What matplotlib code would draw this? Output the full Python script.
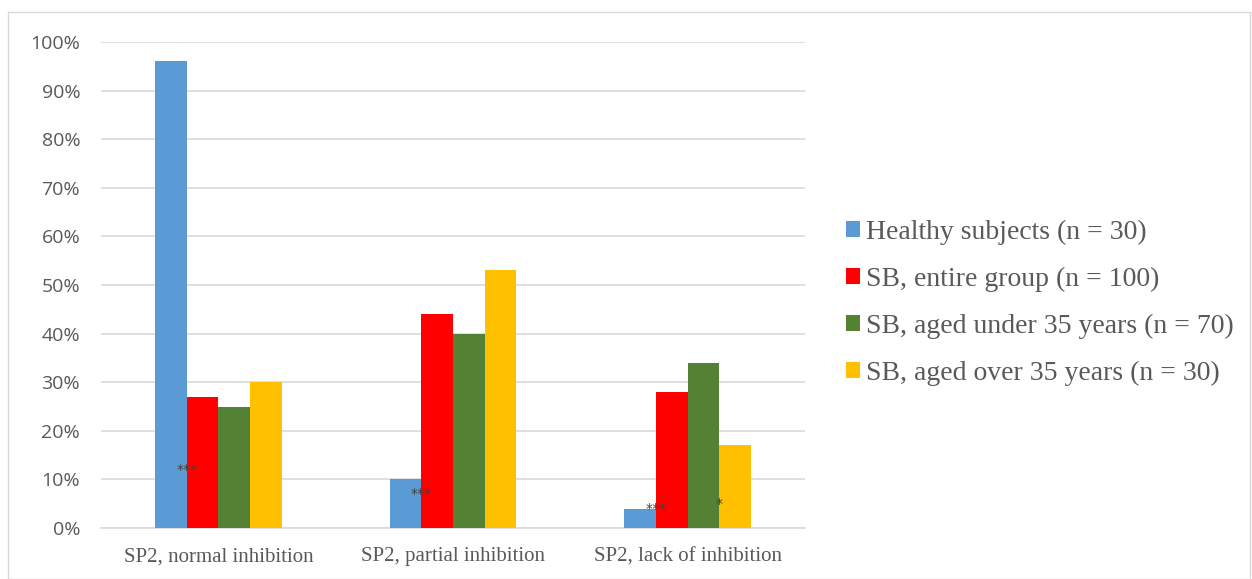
import matplotlib
matplotlib.use("Agg")
import matplotlib.pyplot as plt
import matplotlib.ticker as mticker
import numpy as np
from matplotlib.patches import Rectangle

categories = ["SP2, normal inhibition", "SP2, partial inhibition", "SP2, lack of inhibition"]
series_names = [
    "Healthy subjects (n = 30)",
    "SB, entire group (n = 100)",
    "SB, aged under 35 years (n = 70)",
    "SB, aged over 35 years (n = 30)",
]
healthy = [96, 10, 4]
sb_all = [27, 44, 28]
sb_under35 = [25, 40, 34]
sb_over35 = [30, 53, 17]

# significance marks: (category index, offset from group centre in bar widths, y value, text)
stars = [(0, -1.0, 12, "***"), (1, -1.0, 7, "***"), (2, -1.0, 4, "***"), (2, 1.0, 5, "*")]

COLORS = ["#5B9BD5", "#FF0000", "#548235", "#FFC000"]
TEXT = "#595959"
GRID = "#D9D9D9"

fig = plt.figure(figsize=(12.52, 5.79), dpi=100)
ax = fig.add_axes([101 / 1252, 1 - 528 / 579, 704 / 1252, 486 / 579])

# light frame round the whole chart
fig.patches.append(Rectangle((8 / 1252, 0), 1 - 8 / 1252 - 2 / 1252, 1 - 12 / 579,
                             transform=fig.transFigure, fill=False,
                             edgecolor="#D9D9D9", linewidth=1.0))

x = np.arange(len(categories))
w = 0.135
data = [healthy, sb_all, sb_under35, sb_over35]
handles = []
for i, vals in enumerate(data):
    b = ax.bar(x + (i - 1.5) * w, vals, width=w, color=COLORS[i], label=series_names[i], zorder=3)
    handles.append(b)

for ci, off, yv, txt in stars:
    ax.text(x[ci] + off * w, yv, txt, ha="center", va="center",
            fontsize=10, color="#404040", zorder=4, family="DejaVu Sans")

ax.set_xlim(-0.5, 2.5)
ax.set_ylim(0, 100)
ax.set_yticks(np.arange(0, 101, 10))
ax.yaxis.set_major_formatter(mticker.FuncFormatter(lambda v, p: f"{v:.0f}%"))
ax.set_xticks(x)
ax.set_xticklabels(categories, family="Liberation Serif", fontsize=15, color=TEXT)
for lab in ax.get_yticklabels():
    lab.set_family("Open Sans")
    lab.set_fontsize(14)
    lab.set_color(TEXT)
ax.tick_params(axis="both", length=0)
ax.tick_params(axis="y", pad=15)
ax.tick_params(axis="x", pad=14)
for s in ["top", "right", "left"]:
    ax.spines[s].set_visible(False)
ax.spines["bottom"].set_color(GRID)
ax.spines["bottom"].set_linewidth(1.2)
ax.grid(axis="y", color=GRID, linewidth=1.2, zorder=0)
ax.set_axisbelow(True)

leg = fig.legend(handles=handles, labels=series_names, loc="center left",
                 bbox_to_anchor=(821 / 1252, 1 - 303 / 579), frameon=False,
                 prop={"family": "Liberation Serif", "size": 20},
                 handlelength=0.5, handleheight=0.5, handletextpad=0.22,
                 labelspacing=0.79)
for t in leg.get_texts():
    t.set_color(TEXT)

fig.savefig("out.png", dpi=100, facecolor="white")
